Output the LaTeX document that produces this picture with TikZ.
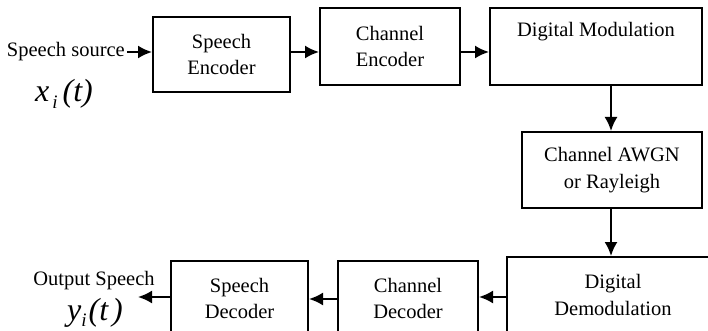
\documentclass[tikz,border=0pt]{standalone}
\usepackage{fontspec}
\setmainfont{Liberation Serif}
\usetikzlibrary{arrows.meta}
\begin{document}
\begin{tikzpicture}[x=1pt,y=-1pt,
  blk/.style={draw, line width=2pt, align=center, inner sep=0pt,
    font=\fontsize{20.5}{26.5}\selectfont},
  lbl/.style={inner sep=0pt, font=\fontsize{20.5}{26}\selectfont},
  sig/.style={inner sep=0pt, font=\fontsize{32}{34}\selectfont\itshape},
  arr/.style={line width=2pt, -{Latex[length=14pt,width=13pt]}}]
\useasboundingbox (0,0) rectangle (708,331);
\clip (0,0) rectangle (708,331);
% top row
\node[blk, minimum width=137pt, minimum height=75pt] (se) at (221.5,54.5) {Speech\\Encoder};
\node[blk, minimum width=140pt, minimum height=77pt] (ce) at (390,46.5) {Channel\\Encoder};
\node[blk, minimum width=212pt, minimum height=77pt] (dm) at (596,46.5) {};
\node[lbl, anchor=base] (dmt) at (596,37) {Digital Modulation};
% channel
\node[blk, minimum width=180pt, minimum height=76pt] (ch) at (612,170) {Channel AWGN\\or Rayleigh};
% bottom row
\node[blk, minimum width=212pt, minimum height=76pt] (dd) at (613,295) {Digital\\Demodulation};
\node[blk, minimum width=140pt, minimum height=75pt] (cd) at (408,298.5) {Channel\\Decoder};
\node[blk, minimum width=137pt, minimum height=75pt] (sd) at (239.5,298.5) {Speech\\Decoder};
% input / output
\coordinate (in) at (127,52);
\node[lbl, anchor=east] (src) at (125,52) {Speech source};
\node[sig, anchor=base] (x) at (64,102) {x\hspace{3pt}\raisebox{-7pt}{\fontsize{19}{20}\selectfont i}\hspace{5pt}(t)};
\coordinate (out) at (138,297);
\node[lbl, anchor=base] (osp) at (94,285) {Output Speech};
\node[sig, anchor=base] (y) at (95,320) {y\raisebox{-6pt}{\fontsize{19}{20}\selectfont i}\hspace{2pt}(t\hspace{4pt})};
% connectors
\draw[arr] (in) -- (se.west |- in);
\draw[arr] (se.east |- 0,52) -- (ce.west |- 0,52);
\draw[arr] (ce.east |- 0,52) -- (dm.west |- 0,52);
\draw[arr] (dm.south -| 611,0) -- (ch.north -| 611,0);
\draw[arr] (ch.south -| 611,0) -- (dd.north -| 611,0);
\draw[arr] (dd.west |- 0,297) -- (cd.east |- 0,297);
\draw[arr] (cd.west |- 0,299) -- (sd.east |- 0,299);
\draw[arr] (sd.west |- out) -- (out);
\end{tikzpicture}
\end{document}
